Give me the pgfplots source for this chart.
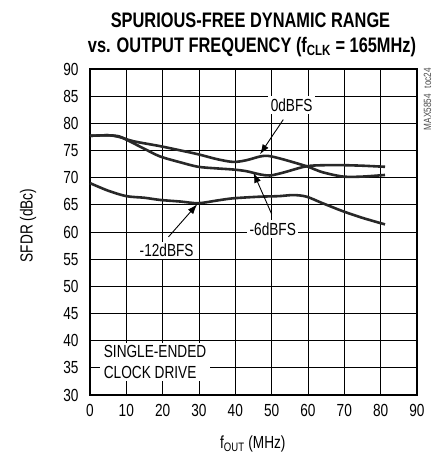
\documentclass[border=0pt]{standalone}
\usepackage{fontspec}
\setmainfont{Liberation Sans}[FakeStretch=0.78]
\newfontfamily\titlefont{Liberation Sans}[FakeStretch=0.78]
\usepackage{pgfplots}
\pgfplotsset{compat=1.18}
\usetikzlibrary{arrows.meta}
\definecolor{curve}{RGB}{40,40,40}
\newcommand{\lbl}{\fontsize{17.5}{21.5}\selectfont}
\begin{document}
\begin{tikzpicture}
\begin{axis}[
  at={(0,0)}, anchor=origin,
  scale only axis, width=327pt, height=326pt,
  xmin=0, xmax=90, ymin=30, ymax=90,
  xtick={0,10,...,90}, ytick={30,35,...,90},
  grid=major,
  major grid style={black, line width=0.8pt},
  axis line style={line width=2.4pt},
  tick style={draw=none},
  ticklabel style={font=\lbl},
  /pgf/number format/assume math mode=true,
  xticklabel style={yshift=-6pt},
  yticklabel style={xshift=-8pt},
  xlabel={f\textsubscript{OUT} (MHz)},
  ylabel={SFDR (dBc)},
  label style={font=\lbl},
  xlabel style={at={(axis description cs:0.498,0)}, anchor=center, yshift=-49pt},
  ylabel style={at={(axis description cs:0,0.52)}, anchor=center, yshift=62pt},
  clip=false,
  axis on top=false,
]
% 0dBFS
\addplot[curve, line width=2.6pt, smooth, tension=0.5] coordinates {
(0,77.7)(5,77.8)(8,77.5)(12,76.7)(19.3,75.8)(25,75.0)(29.8,74.3)(35,73.4)(39.4,72.9)(43,73.2)(46.8,73.9)(49.1,74.0)(53,73.4)(59.6,72.1)(64,71.0)(69.7,70.2)(75,70.2)(81.2,70.5)};
% -6dBFS
\addplot[curve, line width=2.6pt, smooth, tension=0.5] coordinates {
(0,77.7)(5,77.8)(8,77.6)(10.3,76.9)(15,75.3)(19.3,73.9)(25,72.8)(29.8,72.0)(35,71.7)(39.4,71.5)(43,71.2)(46.8,70.6)(49.5,70.4)(53,70.9)(59.6,72.1)(65,72.3)(69.7,72.3)(75,72.2)(81.2,72.0)};
% -12dBFS
\addplot[curve, line width=2.6pt, smooth, tension=0.5] coordinates {
(0,69.0)(5,67.6)(10,66.6)(15,66.3)(19.3,65.9)(25,65.6)(29.8,65.3)(35,65.8)(39.4,66.2)(46.8,66.5)(52,66.6)(56,66.8)(59.6,66.5)(64,65.3)(69.7,63.8)(75,62.6)(81.2,61.4)};

\node[fill=white, inner sep=2.5pt, font=\lbl] at (axis cs:55.5,83.4) {0dBFS};
\node[fill=white, inner sep=2.5pt, font=\lbl] at (axis cs:50.3,60.5) {-6dBFS};
\node[fill=white, inner sep=2.5pt, font=\lbl] at (axis cs:21.1,56.6) {-12dBFS};
\node[fill=white, inner xsep=3.5pt, inner ysep=2pt, font=\lbl, align=left, anchor=west] at (axis cs:2.8,36.1) {SINGLE-ENDED\\CLOCK DRIVE};

\draw[line width=0.9pt, -{Latex[length=10pt,width=7pt]}] (axis cs:53.2,80.7) -- (axis cs:46.8,74.3);
\draw[line width=0.9pt, -{Latex[length=10pt,width=7pt]}] (axis cs:50.0,63.3) -- (axis cs:45.0,70.9);
\draw[line width=0.9pt, -{Latex[length=10pt,width=7pt]}] (axis cs:21.6,59.1) -- (axis cs:29.5,65.1);

\node[rotate=90, anchor=south east, font=\fontsize{10.5}{10.5}\selectfont, text=black!70, inner sep=0pt] at (axis cs:94.0,90.2) {MAX5854\hspace{6pt}toc24};
\end{axis}
\node[font=\titlefont\bfseries\fontsize{21}{21}\selectfont] at (160.5pt,375pt) {SPURIOUS-FREE DYNAMIC RANGE};
\node[font=\titlefont\bfseries\fontsize{21}{21}\selectfont] at (162pt,348pt) {vs. OUTPUT FREQUENCY (f\textsubscript{CLK} = 165MHz)};
\pgfresetboundingbox
\path (-90pt,-59pt) rectangle (346pt,395pt);
\end{tikzpicture}
\end{document}
